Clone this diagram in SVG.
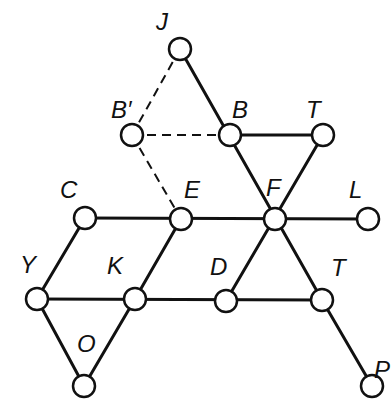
<svg xmlns="http://www.w3.org/2000/svg" width="391" height="401" viewBox="0 0 391 401">
<style>
.n{fill:#fff;stroke:#111;stroke-width:2.5}
.l{stroke:#111;stroke-width:3;fill:none;stroke-linecap:round}
.d{stroke:#111;stroke-width:2;fill:none;stroke-dasharray:9 6}
.t{font-family:"Liberation Sans",Arial,sans-serif;font-style:italic;font-size:24px;fill:#111}
</style>
<rect width="391" height="401" fill="#fff"/>
<g id="connectors">
<line class="d" x1="180" y1="49" x2="132" y2="135"/>
<line class="d" x1="132" y1="135" x2="230" y2="135"/>
<line class="d" x1="132" y1="135" x2="181" y2="219"/>
<line class="l" x1="180" y1="49" x2="322" y2="300"/>
<line class="l" x1="230" y1="135" x2="323" y2="135"/>
<line class="l" x1="323" y1="135" x2="226" y2="301"/>
<line class="l" x1="85" y1="218" x2="368" y2="219"/>
<line class="l" x1="37" y1="299" x2="322" y2="300"/>
<line class="l" x1="85" y1="218" x2="37" y2="299"/>
<line class="l" x1="181" y1="219" x2="135" y2="299"/>
<line class="l" x1="37" y1="299" x2="84" y2="386"/>
<line class="l" x1="135" y1="299" x2="84" y2="386"/>
<line class="l" x1="322" y1="300" x2="372" y2="386"/>
</g>
<g id="J"><circle class="n" cx="180" cy="49" r="11"/><text class="t" x="156" y="30">J</text></g>
<g id="B-prime"><circle class="n" cx="132" cy="135" r="11"/><text class="t" x="111" y="118">B′</text></g>
<g id="B"><circle class="n" cx="230" cy="135" r="11"/><text class="t" x="232" y="118">B</text></g>
<g id="T-top"><circle class="n" cx="323" cy="135" r="11"/><text class="t" x="306" y="118">T</text></g>
<g id="C"><circle class="n" cx="85" cy="218" r="11"/><text class="t" x="60" y="198">C</text></g>
<g id="E"><circle class="n" cx="181" cy="219" r="11"/><text class="t" x="184" y="198">E</text></g>
<g id="F"><circle class="n" cx="275" cy="219" r="11"/><text class="t" x="266" y="196">F</text></g>
<g id="L"><circle class="n" cx="368" cy="219" r="11"/><text class="t" x="349" y="198">L</text></g>
<g id="Y"><circle class="n" cx="37" cy="299" r="11"/><text class="t" x="20" y="273">Y</text></g>
<g id="K"><circle class="n" cx="135" cy="299" r="11"/><text class="t" x="107" y="274">K</text></g>
<g id="D"><circle class="n" cx="226" cy="301" r="11"/><text class="t" x="210" y="275">D</text></g>
<g id="T-low"><circle class="n" cx="322" cy="300" r="11"/><text class="t" x="331" y="276">T</text></g>
<g id="O"><circle class="n" cx="84" cy="386" r="11"/><text class="t" x="77" y="352">O</text></g>
<g id="P"><circle class="n" cx="372" cy="386" r="11"/><text class="t" x="374" y="378">P</text></g>
</svg>
